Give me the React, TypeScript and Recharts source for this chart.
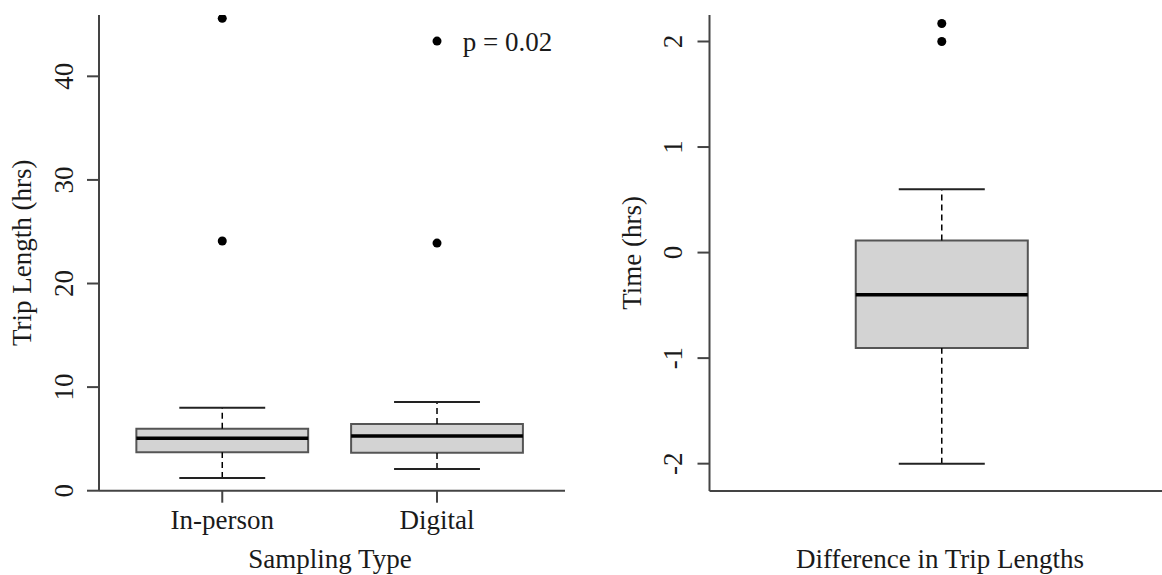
import { ComposedChart, XAxis, YAxis, Scatter, ReferenceArea, ReferenceLine } from 'recharts';

// Trip length by sampling type (five-number summaries + outliers)
const groups = ['In-person', 'Digital'];
const tripLower = [1.23, 2.09];
const tripQ1 = [3.71, 3.67];
const tripMedian = [5.06, 5.28];
const tripQ3 = [5.98, 6.44];
const tripUpper = [8.01, 8.56];
const tripOutlierGroup = [1, 1, 2, 2];
const tripOutlierHours = [45.6, 24.1, 43.4, 23.9];
const tripTicks = [0, 10, 20, 30, 40];
const pValueText = 'p = 0.02';

// Paired difference in trip lengths
const diffLower = -2.0;
const diffQ1 = -0.905;
const diffMedian = -0.4;
const diffQ3 = 0.115;
const diffUpper = 0.6;
const diffOutliers = [2.0, 2.17];
const timeTicks = [-2, -1, 0, 1, 2];

const FONT = '"Liberation Serif", "Times New Roman", serif';
const INK = '#1a1a1a';
const AXIS = '#444';

const tripOutliers = tripOutlierHours.map((y, i) => ({ x: tripOutlierGroup[i], y }));
const diffOutlierPts = diffOutliers.map((y) => ({ x: 1, y }));

const YTick = (props: any) => {
  const { y, payload, baseline } = props;
  return (
    <text
      x={baseline}
      y={y}
      transform={`rotate(-90 ${baseline} ${y})`}
      textAnchor="middle"
      fontFamily={FONT}
      fontSize={27}
      fill={INK}
    >
      {payload.value}
    </text>
  );
};

const XTick = (props: any) => {
  const { x, payload } = props;
  return (
    <text x={x} y={529.3} textAnchor="middle" fontFamily={FONT} fontSize={27} fill={INK}>
      {groups[payload.value - 1]}
    </text>
  );
};

const Dot = (props: any) => <circle cx={props.cx} cy={props.cy} r={4.5} fill="#000" />;

// one box-and-whisker glyph built from reference shapes on the chart's scales
function boxGlyph(c: number, lo: number, q1: number, med: number, q3: number, hi: number, half: number, key: string) {
  const cap = half / 2;
  return [
    <ReferenceLine key={key + 'wu'} segment={[{ x: c, y: q3 }, { x: c, y: hi }]} stroke="#000" strokeWidth={1.5} strokeDasharray="6 4" ifOverflow="visible" />,
    <ReferenceLine key={key + 'wl'} segment={[{ x: c, y: lo }, { x: c, y: q1 }]} stroke="#000" strokeWidth={1.5} strokeDasharray="6 4" ifOverflow="visible" />,
    <ReferenceLine key={key + 'cu'} segment={[{ x: c - cap, y: hi }, { x: c + cap, y: hi }]} stroke="#222" strokeWidth={2} ifOverflow="visible" />,
    <ReferenceLine key={key + 'cl'} segment={[{ x: c - cap, y: lo }, { x: c + cap, y: lo }]} stroke="#222" strokeWidth={2} ifOverflow="visible" />,
    <ReferenceArea key={key + 'b'} x1={c - half} x2={c + half} y1={q1} y2={q3} fill="#d3d3d3" fillOpacity={1} stroke="#555" strokeWidth={2} ifOverflow="visible" />,
    <ReferenceLine key={key + 'm'} segment={[{ x: c - half, y: med }, { x: c + half, y: med }]} stroke="#000" strokeWidth={3.5} ifOverflow="visible" />,
  ];
}

export default function App() {
  return (
    <div style={{ position: 'absolute', left: 0, top: 0, width: 1162, height: 575, background: '#fff', overflow: 'hidden' }}>
      <div style={{ position: 'absolute', left: 0, top: 0 }}>
        <ComposedChart width={1162} height={575} margin={{ top: 15, right: 597, bottom: 24.3, left: 19 }}>
          <XAxis
            type="number"
            dataKey="x"
            domain={[0.426, 2.596]}
            ticks={[1, 2]}
            interval={0}
            allowDataOverflow
            height={60}
            tickSize={12}
            axisLine={{ stroke: AXIS, strokeWidth: 2 }}
            tickLine={{ stroke: AXIS, strokeWidth: 2 }}
            tick={<XTick />}
            label={() => (
              <text x={330} y={568} textAnchor="middle" fontFamily={FONT} fontSize={27} fill={INK}>
                Sampling Type
              </text>
            )}
          />
          <YAxis
            type="number"
            dataKey="y"
            width={80}
            domain={[0, 45.92]}
            ticks={tripTicks}
            interval={0}
            allowDataOverflow
            tickSize={12}
            axisLine={{ stroke: AXIS, strokeWidth: 2 }}
            tickLine={{ stroke: AXIS, strokeWidth: 2 }}
            tick={<YTick baseline={73} />}
            label={() => (
              <text x={31} y={252.8} transform="rotate(-90 31 252.8)" textAnchor="middle" fontFamily={FONT} fontSize={27} fill={INK}>
                Trip Length (hrs)
              </text>
            )}
          />
          {groups.map((g, i) =>
            boxGlyph(i + 1, tripLower[i], tripQ1[i], tripMedian[i], tripQ3[i], tripUpper[i], 0.4, g)
          )}
          <Scatter data={tripOutliers} dataKey="y" shape={<Dot />} isAnimationActive={false} />
          <text x={462.7} y={51} fontFamily={FONT} fontSize={27} fill={INK}>
            {pValueText}
          </text>
        </ComposedChart>
      </div>
      <div style={{ position: 'absolute', left: 0, top: 0 }}>
        <ComposedChart width={1162} height={575} margin={{ top: 15, right: 0, bottom: 24, left: 629.5 }}>
          <XAxis
            type="number"
            dataKey="x"
            domain={[0.46, 1.512]}
            allowDataOverflow
            height={60}
            tick={false}
            tickLine={false}
            axisLine={{ stroke: AXIS, strokeWidth: 2 }}
            label={() => (
              <text x={940} y={568} textAnchor="middle" fontFamily={FONT} fontSize={27} fill={INK}>
                Difference in Trip Lengths
              </text>
            )}
          />
          <YAxis
            type="number"
            dataKey="y"
            width={80}
            domain={[-2.259, 2.251]}
            ticks={timeTicks}
            interval={0}
            allowDataOverflow
            tickSize={12}
            axisLine={{ stroke: AXIS, strokeWidth: 2 }}
            tickLine={{ stroke: AXIS, strokeWidth: 2 }}
            tick={<YTick baseline={682} />}
            label={() => (
              <text x={641} y={252.8} transform="rotate(-90 641 252.8)" textAnchor="middle" fontFamily={FONT} fontSize={27} fill={INK}>
                Time (hrs)
              </text>
            )}
          />
          {boxGlyph(1, diffLower, diffQ1, diffMedian, diffQ3, diffUpper, 0.2, 'diff')}
          <Scatter data={diffOutlierPts} dataKey="y" shape={<Dot />} isAnimationActive={false} />
        </ComposedChart>
      </div>
    </div>
  );
}
